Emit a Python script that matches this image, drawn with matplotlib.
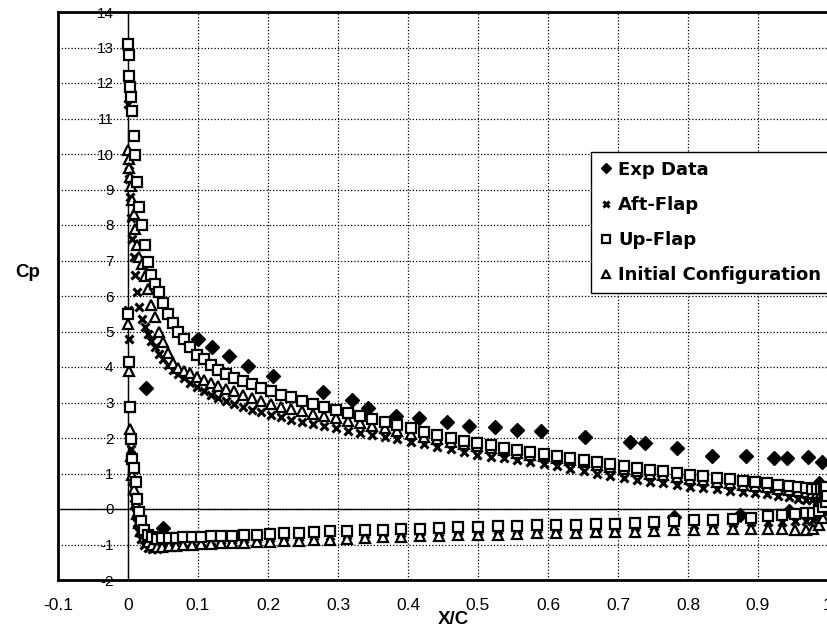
import matplotlib
matplotlib.use('Agg')
import matplotlib.pyplot as plt

# ---------------- data ----------------
x_ticks = [-0.1, 0.0, 0.1, 0.2, 0.3, 0.4, 0.5, 0.6, 0.7, 0.8, 0.9, 1.0]
x_tick_labels = ['-0.1', '0', '0.1', '0.2', '0.3', '0.4', '0.5', '0.6', '0.7', '0.8', '0.9', '1']
y_ticks = [-2, -1, 0, 1, 2, 3, 4, 5, 6, 7, 8, 9, 10, 11, 12, 13, 14]
y_tick_labels = ['-2', '-1', '0', '1', '2', '3', '4', '5', '6', '7', '8', '9', '10', '11', '12', '13', '14']

series_labels = ['Exp Data', 'Aft-Flap', 'Up-Flap', 'Initial Configuration']

exp_x = [0.026, 0.100, 0.120, 0.145, 0.172, 0.207, 0.279, 0.320, 0.343, 0.383,
         0.416, 0.456, 0.487, 0.524, 0.556, 0.590, 0.653, 0.717, 0.739, 0.784,
         0.834, 0.883, 0.923, 0.941, 0.972, 0.991, 0.987, 0.945, 0.875, 0.780, 0.050]
exp_cp = [3.40, 4.80, 4.55, 4.30, 4.04, 3.76, 3.30, 3.07, 2.84, 2.62,
          2.55, 2.44, 2.35, 2.30, 2.22, 2.20, 2.04, 1.89, 1.85, 1.71,
          1.49, 1.49, 1.43, 1.43, 1.46, 1.32, 0.73, -0.05, -0.18, -0.22, -0.54]

x_upper = [0.000, 0.001, 0.002, 0.003, 0.004, 0.006, 0.008, 0.010, 0.013, 0.016,
           0.020, 0.024, 0.028, 0.033, 0.038, 0.044, 0.050, 0.057, 0.064, 0.072,
           0.080, 0.089, 0.098, 0.108, 0.118, 0.129, 0.140, 0.152, 0.164, 0.177,
           0.190, 0.204, 0.218, 0.233, 0.248, 0.264, 0.280, 0.297, 0.314, 0.331,
           0.349, 0.367, 0.385, 0.404, 0.423, 0.442, 0.461, 0.480, 0.499, 0.518,
           0.537, 0.556, 0.575, 0.594, 0.613, 0.632, 0.651, 0.670, 0.689, 0.708,
           0.727, 0.746, 0.765, 0.784, 0.803, 0.822, 0.841, 0.860, 0.878, 0.896,
           0.913, 0.929, 0.944, 0.957, 0.968, 0.977, 0.984, 0.990, 0.994, 0.997]

upflap_upper = [13.10, 12.80, 12.20, 11.90, 11.60, 11.20, 10.50, 9.97, 9.20, 8.50,
                8.00, 7.45, 6.95, 6.60, 6.35, 6.10, 5.80, 5.50, 5.25, 5.00,
                4.78, 4.55, 4.35, 4.22, 4.06, 3.92, 3.80, 3.70, 3.61, 3.51,
                3.42, 3.32, 3.22, 3.15, 3.05, 2.95, 2.88, 2.78, 2.70, 2.62,
                2.53, 2.45, 2.36, 2.28, 2.18, 2.08, 2.00, 1.92, 1.86, 1.80,
                1.73, 1.67, 1.61, 1.55, 1.49, 1.43, 1.38, 1.32, 1.26, 1.21,
                1.16, 1.11, 1.06, 1.01, 0.96, 0.92, 0.88, 0.84, 0.80, 0.77,
                0.73, 0.69, 0.65, 0.61, 0.58, 0.56, 0.55, 0.55, 0.58, 0.62]

initial_upper = [10.10, 9.85, 9.60, 9.35, 9.10, 8.70, 8.30, 7.90, 7.45, 7.10,
                 6.90, 6.55, 6.20, 5.75, 5.40, 5.00, 4.70, 4.40, 4.10, 3.98,
                 3.90, 3.82, 3.73, 3.63, 3.54, 3.46, 3.39, 3.32, 3.22, 3.13,
                 3.03, 2.95, 2.88, 2.82, 2.75, 2.68, 2.62, 2.55, 2.48, 2.42,
                 2.35, 2.28, 2.20, 2.12, 2.04, 1.97, 1.90, 1.83, 1.77, 1.71,
                 1.65, 1.59, 1.53, 1.48, 1.43, 1.37, 1.31, 1.24, 1.18, 1.12,
                 1.06, 1.00, 0.95, 0.90, 0.85, 0.81, 0.77, 0.73, 0.69, 0.65,
                 0.61, 0.57, 0.53, 0.50, 0.47, 0.45, 0.44, 0.44, 0.46, 0.50]

aftflap_upper = [11.40, 9.70, 9.30, 8.80, 8.20, 7.60, 7.10, 6.60, 6.10, 5.70,
                 5.35, 5.12, 4.92, 4.72, 4.55, 4.38, 4.22, 4.06, 3.92, 3.80,
                 3.68, 3.56, 3.45, 3.33, 3.22, 3.12, 3.03, 2.95, 2.87, 2.80,
                 2.72, 2.65, 2.58, 2.51, 2.45, 2.39, 2.33, 2.27, 2.21, 2.15,
                 2.09, 2.03, 1.96, 1.90, 1.83, 1.76, 1.68, 1.60, 1.53, 1.47,
                 1.45, 1.39, 1.33, 1.27, 1.21, 1.14, 1.07, 1.00, 0.93, 0.87,
                 0.82, 0.77, 0.72, 0.67, 0.62, 0.59, 0.55, 0.52, 0.49, 0.46,
                 0.42, 0.38, 0.33, 0.29, 0.26, 0.24, 0.23, 0.24, 0.28, 0.32]

x_lower = [0.000, 0.001, 0.003, 0.004, 0.006, 0.008, 0.011, 0.013, 0.016, 0.019,
           0.023, 0.028, 0.034, 0.041, 0.049, 0.058, 0.068, 0.079, 0.091, 0.104,
           0.118, 0.133, 0.149, 0.166, 0.184, 0.203, 0.223, 0.244, 0.266, 0.289,
           0.313, 0.338, 0.364, 0.390, 0.417, 0.444, 0.472, 0.500, 0.528, 0.556,
           0.584, 0.612, 0.640, 0.668, 0.696, 0.724, 0.752, 0.780, 0.808, 0.836,
           0.864, 0.890, 0.914, 0.935, 0.953, 0.968, 0.979, 0.987, 0.993, 0.997,
           0.999]

upflap_lower = [5.50, 4.15, 2.87, 1.97, 1.40, 1.15, 0.75, 0.28, -0.08, -0.35,
                -0.58, -0.72, -0.80, -0.84, -0.83, -0.82, -0.81, -0.80, -0.79, -0.78,
                -0.77, -0.76, -0.75, -0.74, -0.72, -0.71, -0.69, -0.67, -0.65, -0.63,
                -0.62, -0.60, -0.58, -0.56, -0.55, -0.53, -0.52, -0.50, -0.49, -0.47,
                -0.46, -0.45, -0.44, -0.42, -0.41, -0.39, -0.37, -0.35, -0.32, -0.30,
                -0.27, -0.24, -0.20, -0.17, -0.14, -0.12, -0.10, -0.05, 0.05, 0.20,
                0.38]

initial_lower = [5.20, 3.90, 2.25, 1.50, 0.95, 0.55, 0.15, -0.15, -0.40, -0.62,
                 -0.80, -0.93, -1.02, -1.06, -1.06, -1.05, -1.04, -1.02, -1.01, -0.99,
                 -0.98, -0.97, -0.96, -0.95, -0.94, -0.93, -0.91, -0.90, -0.88, -0.86,
                 -0.84, -0.82, -0.80, -0.78, -0.76, -0.75, -0.74, -0.73, -0.72, -0.70,
                 -0.69, -0.68, -0.67, -0.66, -0.65, -0.64, -0.62, -0.60, -0.58, -0.56,
                 -0.55, -0.55, -0.56, -0.57, -0.58, -0.58, -0.55, -0.45, -0.25, 0.00,
                 0.25]

aftflap_lower = [5.60, 4.80, 2.85, 1.70, 0.80, 0.30, -0.10, -0.40, -0.65, -0.85,
                 -1.00, -1.10, -1.13, -1.12, -1.08, -1.03, -0.99, -0.96, -0.94, -0.92,
                 -0.90, -0.88, -0.87, -0.85, -0.84, -0.82, -0.80, -0.78, -0.76, -0.75,
                 -0.73, -0.71, -0.69, -0.67, -0.66, -0.64, -0.63, -0.61, -0.60, -0.58,
                 -0.57, -0.56, -0.55, -0.54, -0.53, -0.51, -0.49, -0.47, -0.45, -0.42,
                 -0.40, -0.38, -0.37, -0.36, -0.35, -0.34, -0.30, -0.20, -0.05, 0.10,
                 0.30]

# ---------------- plot ----------------
plt.rcParams['font.family'] = ['Liberation Sans', 'DejaVu Sans']

fig = plt.figure(figsize=(8.28, 6.33), dpi=100)
ax = fig.add_axes([58 / 828, 53 / 633, 770 / 828, 568 / 633])
ax.set_xlim(-0.1, 1.0)
ax.set_ylim(-2, 14)

ax.grid(True, color='black', linestyle=(0, (1, 1.6)), linewidth=0.9, zorder=0)
ax.set_axisbelow(True)
ax.axhline(0, color='black', lw=1.0, zorder=1)
ax.axvline(0, color='black', lw=1.0, zorder=1)

sq_kw = dict(ms=7, mew=1.6, mec='black', mfc='white', ls='none')

h_exp, = ax.plot(exp_x, exp_cp, marker='D', color='black', ms=7, ls='none', zorder=2)
h_aft, = ax.plot(x_upper + x_lower, aftflap_upper + aftflap_lower, marker='x',
                 color='black', ms=6.2, mew=2.2, ls='none', zorder=3)
h_ini, = ax.plot(x_upper + x_lower, initial_upper + initial_lower, marker='^',
                 zorder=4, **sq_kw)
h_up, = ax.plot(x_upper + x_lower, upflap_upper + upflap_lower, marker='s',
                zorder=5, **sq_kw)

ax.set_xticks(x_ticks)
ax.set_xticklabels(x_tick_labels, fontsize=12.5)
ax.set_yticks(y_ticks)
ax.set_yticklabels(y_tick_labels, fontsize=11)
ax.tick_params(axis='x', length=0, pad=13)
ax.tick_params(axis='y', length=0, pad=-40)

for sp in ax.spines.values():
    sp.set_linewidth(2.0)
    sp.set_color('black')

fig.text(28 / 828, 1 - 272 / 633, 'Cp', fontsize=13.5, fontweight='bold', ha='center', va='center')
fig.text(453 / 828, 1 - 620 / 633, 'X/C', fontsize=13.5, fontweight='bold', ha='center', va='center')

leg = ax.legend([h_exp, h_aft, h_up, h_ini], series_labels, loc='upper left',
                bbox_to_anchor=(0.692, 0.754), frameon=True, fancybox=False,
                edgecolor='black', framealpha=1,
                prop=dict(family='DejaVu Sans', weight='bold', size=13),
                handlelength=0.7, handletextpad=0.3, labelspacing=0.95,
                borderpad=0.5, borderaxespad=0, markerscale=0.75)
leg.get_frame().set_linewidth(1.0)
leg.set_zorder(10)

fig.savefig('out.png', dpi=100)
